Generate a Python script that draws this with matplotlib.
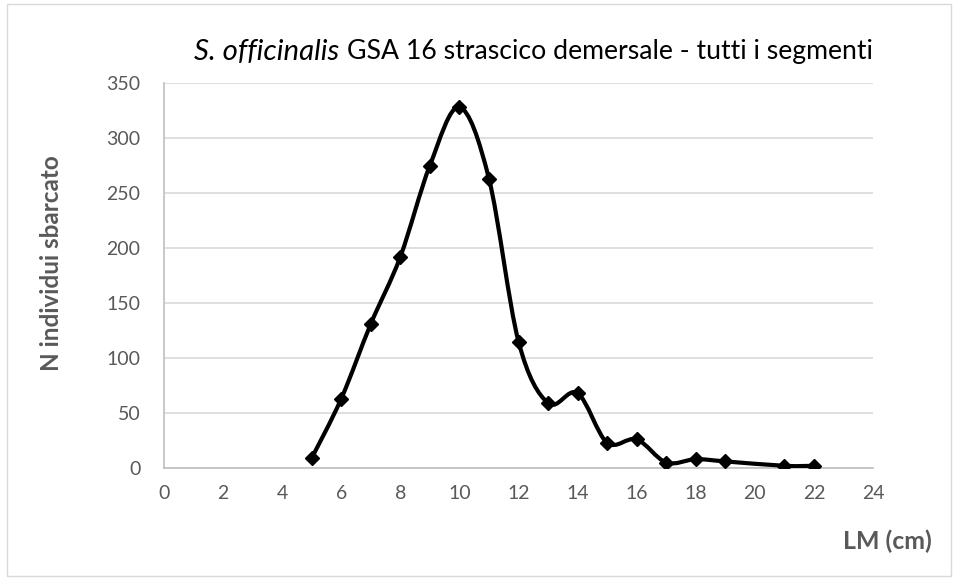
import numpy as np
import matplotlib.pyplot as plt
from matplotlib.path import Path
from matplotlib.patches import PathPatch, Rectangle

# landed catch by mantle length
lm_cm = [5, 6, 7, 8, 9, 10, 11, 12, 13, 14, 15, 16, 17, 18, 19, 21, 22]
n_individui = [9, 63, 131, 192, 275, 328, 263, 115, 59, 68, 23, 26, 5, 8, 6, 2, 2]

x_ticks = list(range(0, 25, 2))
y_ticks = list(range(0, 351, 50))

title_species = 'S. officinalis'
title_rest = 'GSA 16 strascico demersale - tutti i segmenti'
x_label = 'LM (cm)'
y_label = 'N individui sbarcato'

plt.rcParams['font.family'] = ['Lato', 'DejaVu Sans']

W, H = 958, 579


def smooth_path(xs, ys):
    # catmull-rom style bezier, like a spreadsheet "smoothed line"
    pts = np.column_stack([xs, ys]).astype(float)
    n = len(pts)
    verts = [pts[0]]
    codes = [Path.MOVETO]
    for i in range(n - 1):
        p0 = pts[max(i - 1, 0)]
        p1 = pts[i]
        p2 = pts[i + 1]
        p3 = pts[min(i + 2, n - 1)]
        c1 = p1 + (p2 - p0) / 6.0
        c2 = p2 - (p3 - p1) / 6.0
        verts += [c1, c2, p2]
        codes += [Path.CURVE4] * 3
    return Path(verts, codes)


def fit_text(txt, width_px, renderer):
    # scale font size so the text spans the given width in pixels
    bb = txt.get_window_extent(renderer)
    span = bb.height if txt.get_rotation() == 90 else bb.width
    txt.set_fontsize(txt.get_fontsize() * width_px / span)


fig = plt.figure(figsize=(W / 100, H / 100), dpi=100)
ax = fig.add_axes([164 / W, 1 - 468 / H, 709 / W, 385 / H])
renderer = fig.canvas.get_renderer()

# thin frame around the whole chart
fig.patches.append(Rectangle((7 / W, 3 / H), 944 / W, 572 / H,
                             transform=fig.transFigure, fill=False,
                             edgecolor='#D9D9D9', linewidth=1))

ax.add_patch(PathPatch(smooth_path(lm_cm, n_individui), fill=False,
                       edgecolor='black', linewidth=3.0, zorder=3))
ax.plot(lm_cm, n_individui, linestyle='none', marker='D', markersize=7.5,
        color='black', zorder=4)

ax.set_xlim(0, 24)
ax.set_ylim(0, 350)
ax.set_xticks(x_ticks)
ax.set_yticks(y_ticks)
ax.grid(axis='y', color='#D9D9D9', linewidth=1.2)
ax.set_axisbelow(True)

for side in ['top', 'right']:
    ax.spines[side].set_visible(False)
for side in ['left', 'bottom']:
    ax.spines[side].set_color('#BFBFBF')
    ax.spines[side].set_linewidth(1.2)

ax.tick_params(length=0, labelsize=14, labelcolor='#595959')
ax.tick_params(axis='x', pad=12)
ax.tick_params(axis='y', pad=17)

# title: italic species name followed by upright text
t_rest = fig.text(347 / W, 1 - 52 / H, title_rest, fontsize=18,
                  color='black', va='center', ha='left')
fit_text(t_rest, 525, renderer)
t_sp = fig.text(194 / W, 1 - 52 / H, title_species,
                fontsize=t_rest.get_fontsize(), style='italic',
                color='black', va='center', ha='left')
fit_text(t_sp, 145, renderer)

t_y = fig.text(52 / W, 1 - 263 / H, y_label, rotation=90, fontsize=16,
               fontweight='bold', color='#595959', ha='center', va='center')
fit_text(t_y, 217, renderer)
t_x = fig.text(887 / W, 1 - 541 / H, x_label, fontsize=16, fontweight='bold',
               color='#595959', ha='center', va='center')
fit_text(t_x, 89, renderer)

fig.savefig('out.png', dpi=100)
